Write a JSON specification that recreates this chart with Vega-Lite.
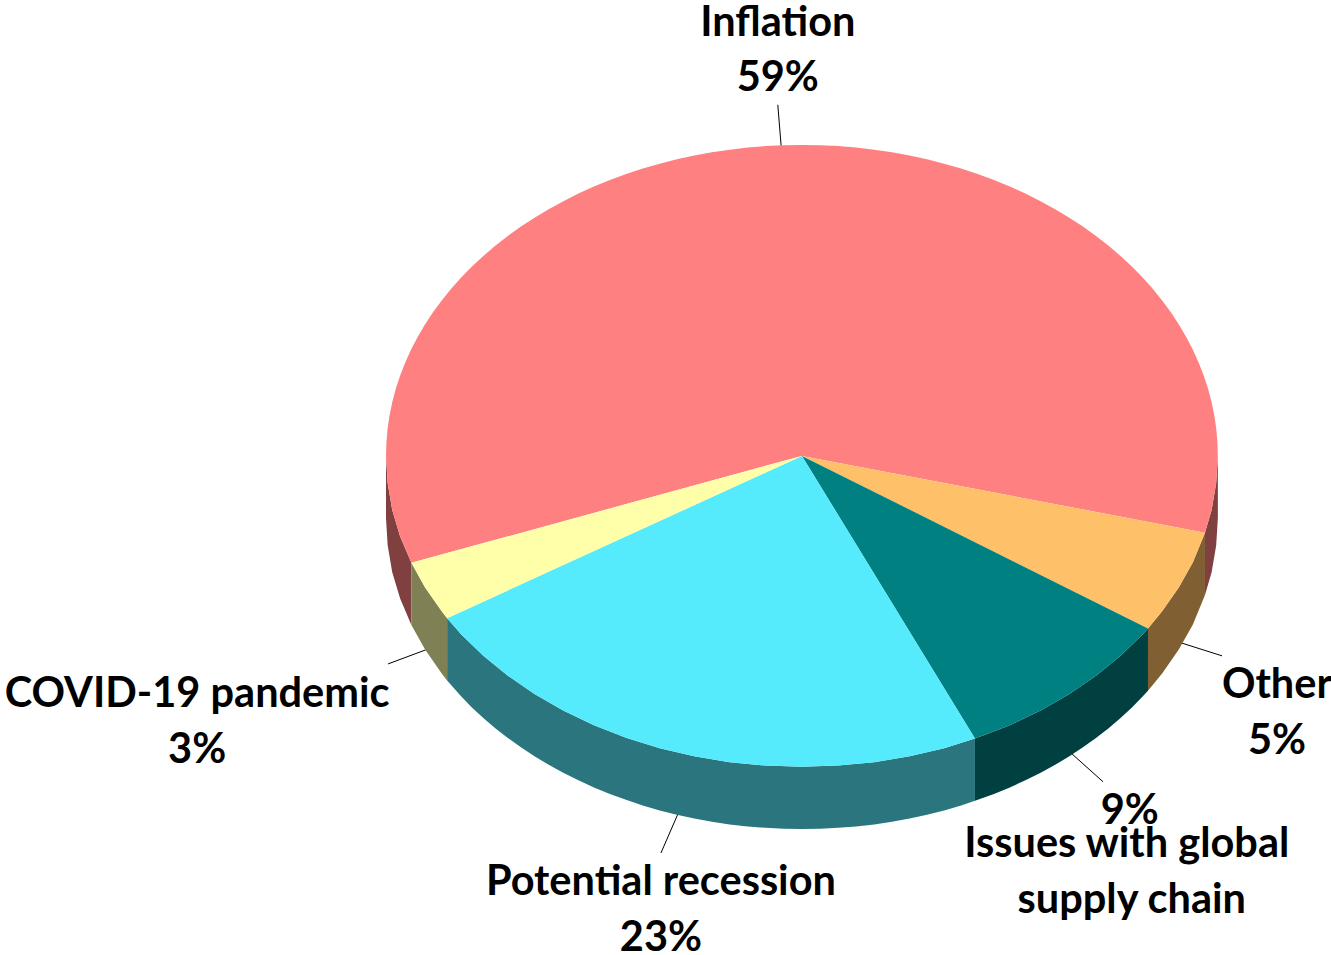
{"$schema":"https://vega.github.io/schema/vega-lite/v6.json","width":1331,"height":955,"padding":0,"autosize":{"type":"none"},"background":"white","view":{"stroke":null},
"datasets":{
"faces":[
{"p":"Inflation side A","o":0,"x":-1,"y":0},{"p":"Inflation side A","o":1,"x":-0.996,"y":-0.087},{"p":"Inflation side A","o":2,"x":-0.985,"y":-0.174},{"p":"Inflation side A","o":3,"x":-0.966,"y":-0.259},{"p":"Inflation side A","o":4,"x":-0.939,"y":-0.344},{"p":"Inflation side A","o":5,"x":-0.939,"y":-0.544},{"p":"Inflation side A","o":6,"x":-0.966,"y":-0.459},{"p":"Inflation side A","o":7,"x":-0.985,"y":-0.374},{"p":"Inflation side A","o":8,"x":-0.996,"y":-0.287},{"p":"Inflation side A","o":9,"x":-1,"y":-0.2},
{"p":"COVID-19 pandemic side","o":0,"x":-0.939,"y":-0.344},{"p":"COVID-19 pandemic side","o":1,"x":-0.906,"y":-0.423},{"p":"COVID-19 pandemic side","o":2,"x":-0.866,"y":-0.5},{"p":"COVID-19 pandemic side","o":3,"x":-0.853,"y":-0.522},{"p":"COVID-19 pandemic side","o":4,"x":-0.853,"y":-0.722},{"p":"COVID-19 pandemic side","o":5,"x":-0.866,"y":-0.7},{"p":"COVID-19 pandemic side","o":6,"x":-0.906,"y":-0.623},{"p":"COVID-19 pandemic side","o":7,"x":-0.939,"y":-0.544},
{"p":"Potential recession side","o":0,"x":-0.853,"y":-0.522},{"p":"Potential recession side","o":1,"x":-0.819,"y":-0.574},{"p":"Potential recession side","o":2,"x":-0.766,"y":-0.643},{"p":"Potential recession side","o":3,"x":-0.707,"y":-0.707},{"p":"Potential recession side","o":4,"x":-0.643,"y":-0.766},{"p":"Potential recession side","o":5,"x":-0.574,"y":-0.819},{"p":"Potential recession side","o":6,"x":-0.5,"y":-0.866},{"p":"Potential recession side","o":7,"x":-0.423,"y":-0.906},{"p":"Potential recession side","o":8,"x":-0.342,"y":-0.94},{"p":"Potential recession side","o":9,"x":-0.259,"y":-0.966},{"p":"Potential recession side","o":10,"x":-0.174,"y":-0.985},{"p":"Potential recession side","o":11,"x":-0.087,"y":-0.996},{"p":"Potential recession side","o":12,"x":0,"y":-1},{"p":"Potential recession side","o":13,"x":0.087,"y":-0.996},{"p":"Potential recession side","o":14,"x":0.174,"y":-0.985},{"p":"Potential recession side","o":15,"x":0.259,"y":-0.966},{"p":"Potential recession side","o":16,"x":0.342,"y":-0.94},{"p":"Potential recession side","o":17,"x":0.416,"y":-0.909},{"p":"Potential recession side","o":18,"x":0.416,"y":-1.109},{"p":"Potential recession side","o":19,"x":0.342,"y":-1.14},{"p":"Potential recession side","o":20,"x":0.259,"y":-1.166},{"p":"Potential recession side","o":21,"x":0.174,"y":-1.185},{"p":"Potential recession side","o":22,"x":0.087,"y":-1.196},{"p":"Potential recession side","o":23,"x":0,"y":-1.2},{"p":"Potential recession side","o":24,"x":-0.087,"y":-1.196},{"p":"Potential recession side","o":25,"x":-0.174,"y":-1.185},{"p":"Potential recession side","o":26,"x":-0.259,"y":-1.166},{"p":"Potential recession side","o":27,"x":-0.342,"y":-1.14},{"p":"Potential recession side","o":28,"x":-0.423,"y":-1.106},{"p":"Potential recession side","o":29,"x":-0.5,"y":-1.066},{"p":"Potential recession side","o":30,"x":-0.574,"y":-1.019},{"p":"Potential recession side","o":31,"x":-0.643,"y":-0.966},{"p":"Potential recession side","o":32,"x":-0.707,"y":-0.907},{"p":"Potential recession side","o":33,"x":-0.766,"y":-0.843},{"p":"Potential recession side","o":34,"x":-0.819,"y":-0.774},{"p":"Potential recession side","o":35,"x":-0.853,"y":-0.722},
{"p":"Potential recession side","o":18.5,"x":0.3827,"y":-1.1239},{"p":"Potential recession side","o":19.5,"x":0.3007,"y":-1.1537},{"p":"Potential recession side","o":20.5,"x":0.2164,"y":-1.1763},{"p":"Potential recession side","o":21.5,"x":0.1305,"y":-1.1914},{"p":"Potential recession side","o":22.5,"x":0.0436,"y":-1.199},{"p":"Potential recession side","o":23.5,"x":-0.0436,"y":-1.199},{"p":"Potential recession side","o":24.5,"x":-0.1305,"y":-1.1914},{"p":"Potential recession side","o":25.5,"x":-0.2164,"y":-1.1763},{"p":"Potential recession side","o":26.5,"x":-0.3007,"y":-1.1537},{"p":"Potential recession side","o":27.5,"x":-0.3827,"y":-1.1239},{"p":"Potential recession side","o":28.5,"x":-0.4617,"y":-1.087},{"p":"Potential recession side","o":29.5,"x":-0.5373,"y":-1.0434},{"p":"Potential recession side","o":30.5,"x":-0.6088,"y":-0.9934},{"p":"Potential recession side","o":31.5,"x":-0.6756,"y":-0.9373},{"p":"Potential recession side","o":32.5,"x":-0.7373,"y":-0.8756},{"p":"Potential recession side","o":33.5,"x":-0.7934,"y":-0.8088},
{"p":"Issues side","o":0,"x":0.416,"y":-0.909},{"p":"Issues side","o":1,"x":0.5,"y":-0.866},{"p":"Issues side","o":2,"x":0.574,"y":-0.819},{"p":"Issues side","o":3,"x":0.643,"y":-0.766},{"p":"Issues side","o":4,"x":0.707,"y":-0.707},{"p":"Issues side","o":5,"x":0.766,"y":-0.643},{"p":"Issues side","o":6,"x":0.819,"y":-0.574},{"p":"Issues side","o":7,"x":0.832,"y":-0.555},{"p":"Issues side","o":8,"x":0.832,"y":-0.755},{"p":"Issues side","o":9,"x":0.819,"y":-0.774},{"p":"Issues side","o":10,"x":0.766,"y":-0.843},{"p":"Issues side","o":11,"x":0.707,"y":-0.907},{"p":"Issues side","o":12,"x":0.643,"y":-0.966},{"p":"Issues side","o":13,"x":0.574,"y":-1.019},{"p":"Issues side","o":14,"x":0.5,"y":-1.066},{"p":"Issues side","o":15,"x":0.416,"y":-1.109},
{"p":"Issues side","o":9.5,"x":0.7934,"y":-0.8088},{"p":"Issues side","o":10.5,"x":0.7373,"y":-0.8756},{"p":"Issues side","o":11.5,"x":0.6756,"y":-0.9373},{"p":"Issues side","o":12.5,"x":0.6088,"y":-0.9934},{"p":"Issues side","o":13.5,"x":0.5373,"y":-1.0434},{"p":"Issues side","o":14.5,"x":0.4617,"y":-1.087},
{"p":"Other side","o":0,"x":0.832,"y":-0.555},{"p":"Other side","o":1,"x":0.866,"y":-0.5},{"p":"Other side","o":2,"x":0.906,"y":-0.423},{"p":"Other side","o":3,"x":0.94,"y":-0.342},{"p":"Other side","o":4,"x":0.969,"y":-0.247},{"p":"Other side","o":5,"x":0.969,"y":-0.447},{"p":"Other side","o":6,"x":0.94,"y":-0.542},{"p":"Other side","o":7,"x":0.906,"y":-0.623},{"p":"Other side","o":8,"x":0.866,"y":-0.7},{"p":"Other side","o":9,"x":0.832,"y":-0.755},
{"p":"Inflation side B","o":0,"x":0.969,"y":-0.247},{"p":"Inflation side B","o":1,"x":0.985,"y":-0.174},{"p":"Inflation side B","o":2,"x":0.996,"y":-0.087},{"p":"Inflation side B","o":3,"x":1,"y":0},{"p":"Inflation side B","o":4,"x":1,"y":-0.2},{"p":"Inflation side B","o":5,"x":0.996,"y":-0.287},{"p":"Inflation side B","o":6,"x":0.985,"y":-0.374},{"p":"Inflation side B","o":7,"x":0.969,"y":-0.447},
{"p":"Inflation","o":0,"x":0,"y":0},{"p":"Inflation","o":1,"x":0.969,"y":-0.247},{"p":"Inflation","o":2,"x":0.985,"y":-0.174},{"p":"Inflation","o":3,"x":0.996,"y":-0.087},{"p":"Inflation","o":4,"x":1,"y":0},{"p":"Inflation","o":5,"x":0.9962,"y":0.0872},{"p":"Inflation","o":6,"x":0.9848,"y":0.1736},{"p":"Inflation","o":7,"x":0.9659,"y":0.2588},{"p":"Inflation","o":8,"x":0.9397,"y":0.342},{"p":"Inflation","o":9,"x":0.9063,"y":0.4226},{"p":"Inflation","o":10,"x":0.866,"y":0.5},{"p":"Inflation","o":11,"x":0.8192,"y":0.5736},{"p":"Inflation","o":12,"x":0.766,"y":0.6428},{"p":"Inflation","o":13,"x":0.7071,"y":0.7071},{"p":"Inflation","o":14,"x":0.6428,"y":0.766},{"p":"Inflation","o":15,"x":0.5736,"y":0.8192},{"p":"Inflation","o":16,"x":0.5,"y":0.866},{"p":"Inflation","o":17,"x":0.4226,"y":0.9063},{"p":"Inflation","o":18,"x":0.342,"y":0.9397},{"p":"Inflation","o":19,"x":0.2588,"y":0.9659},{"p":"Inflation","o":20,"x":0.1736,"y":0.9848},{"p":"Inflation","o":21,"x":0.0872,"y":0.9962},{"p":"Inflation","o":22,"x":0,"y":1},{"p":"Inflation","o":23,"x":-0.0872,"y":0.9962},{"p":"Inflation","o":24,"x":-0.1736,"y":0.9848},{"p":"Inflation","o":25,"x":-0.2588,"y":0.9659},{"p":"Inflation","o":26,"x":-0.342,"y":0.9397},{"p":"Inflation","o":27,"x":-0.4226,"y":0.9063},{"p":"Inflation","o":28,"x":-0.5,"y":0.866},{"p":"Inflation","o":29,"x":-0.5736,"y":0.8192},{"p":"Inflation","o":30,"x":-0.6428,"y":0.766},{"p":"Inflation","o":31,"x":-0.7071,"y":0.7071},{"p":"Inflation","o":32,"x":-0.766,"y":0.6428},{"p":"Inflation","o":33,"x":-0.8192,"y":0.5736},{"p":"Inflation","o":34,"x":-0.866,"y":0.5},{"p":"Inflation","o":35,"x":-0.9063,"y":0.4226},{"p":"Inflation","o":36,"x":-0.9397,"y":0.342},{"p":"Inflation","o":37,"x":-0.9659,"y":0.2588},{"p":"Inflation","o":38,"x":-0.9848,"y":0.1736},{"p":"Inflation","o":39,"x":-0.9962,"y":0.0872},{"p":"Inflation","o":40,"x":-1,"y":0},{"p":"Inflation","o":41,"x":-0.996,"y":-0.087},{"p":"Inflation","o":42,"x":-0.985,"y":-0.174},{"p":"Inflation","o":43,"x":-0.966,"y":-0.259},{"p":"Inflation","o":44,"x":-0.939,"y":-0.344},
{"p":"Inflation","o":4.5,"x":0.999,"y":0.0436},{"p":"Inflation","o":5.5,"x":0.9914,"y":0.1305},{"p":"Inflation","o":6.5,"x":0.9763,"y":0.2164},{"p":"Inflation","o":7.5,"x":0.9537,"y":0.3007},{"p":"Inflation","o":8.5,"x":0.9239,"y":0.3827},{"p":"Inflation","o":9.5,"x":0.887,"y":0.4617},{"p":"Inflation","o":10.5,"x":0.8434,"y":0.5373},{"p":"Inflation","o":11.5,"x":0.7934,"y":0.6088},{"p":"Inflation","o":12.5,"x":0.7373,"y":0.6756},{"p":"Inflation","o":13.5,"x":0.6756,"y":0.7373},{"p":"Inflation","o":14.5,"x":0.6088,"y":0.7934},{"p":"Inflation","o":15.5,"x":0.5373,"y":0.8434},{"p":"Inflation","o":16.5,"x":0.4617,"y":0.887},{"p":"Inflation","o":17.5,"x":0.3827,"y":0.9239},{"p":"Inflation","o":18.5,"x":0.3007,"y":0.9537},{"p":"Inflation","o":19.5,"x":0.2164,"y":0.9763},{"p":"Inflation","o":20.5,"x":0.1305,"y":0.9914},{"p":"Inflation","o":21.5,"x":0.0436,"y":0.999},{"p":"Inflation","o":22.5,"x":-0.0436,"y":0.999},{"p":"Inflation","o":23.5,"x":-0.1305,"y":0.9914},{"p":"Inflation","o":24.5,"x":-0.2164,"y":0.9763},{"p":"Inflation","o":25.5,"x":-0.3007,"y":0.9537},{"p":"Inflation","o":26.5,"x":-0.3827,"y":0.9239},{"p":"Inflation","o":27.5,"x":-0.4617,"y":0.887},{"p":"Inflation","o":28.5,"x":-0.5373,"y":0.8434},{"p":"Inflation","o":29.5,"x":-0.6088,"y":0.7934},{"p":"Inflation","o":30.5,"x":-0.6756,"y":0.7373},{"p":"Inflation","o":31.5,"x":-0.7373,"y":0.6756},{"p":"Inflation","o":32.5,"x":-0.7934,"y":0.6088},{"p":"Inflation","o":33.5,"x":-0.8434,"y":0.5373},{"p":"Inflation","o":34.5,"x":-0.887,"y":0.4617},{"p":"Inflation","o":35.5,"x":-0.9239,"y":0.3827},{"p":"Inflation","o":36.5,"x":-0.9537,"y":0.3007},{"p":"Inflation","o":37.5,"x":-0.9763,"y":0.2164},{"p":"Inflation","o":38.5,"x":-0.9914,"y":0.1305},{"p":"Inflation","o":39.5,"x":-0.999,"y":0.0436},
{"p":"Other","o":0,"x":0,"y":0},{"p":"Other","o":1,"x":0.832,"y":-0.555},{"p":"Other","o":2,"x":0.866,"y":-0.5},{"p":"Other","o":3,"x":0.906,"y":-0.423},{"p":"Other","o":4,"x":0.94,"y":-0.342},{"p":"Other","o":5,"x":0.969,"y":-0.247},
{"p":"Issues","o":0,"x":0,"y":0},{"p":"Issues","o":1,"x":0.416,"y":-0.909},{"p":"Issues","o":2,"x":0.5,"y":-0.866},{"p":"Issues","o":3,"x":0.574,"y":-0.819},{"p":"Issues","o":4,"x":0.643,"y":-0.766},{"p":"Issues","o":5,"x":0.707,"y":-0.707},{"p":"Issues","o":6,"x":0.766,"y":-0.643},{"p":"Issues","o":7,"x":0.819,"y":-0.574},{"p":"Issues","o":8,"x":0.832,"y":-0.555},
{"p":"Potential recession","o":0,"x":0,"y":0},{"p":"Potential recession","o":1,"x":-0.853,"y":-0.522},{"p":"Potential recession","o":2,"x":-0.819,"y":-0.574},{"p":"Potential recession","o":3,"x":-0.766,"y":-0.643},{"p":"Potential recession","o":4,"x":-0.707,"y":-0.707},{"p":"Potential recession","o":5,"x":-0.643,"y":-0.766},{"p":"Potential recession","o":6,"x":-0.574,"y":-0.819},{"p":"Potential recession","o":7,"x":-0.5,"y":-0.866},{"p":"Potential recession","o":8,"x":-0.423,"y":-0.906},{"p":"Potential recession","o":9,"x":-0.342,"y":-0.94},{"p":"Potential recession","o":10,"x":-0.259,"y":-0.966},{"p":"Potential recession","o":11,"x":-0.174,"y":-0.985},{"p":"Potential recession","o":12,"x":-0.087,"y":-0.996},{"p":"Potential recession","o":13,"x":0,"y":-1},{"p":"Potential recession","o":14,"x":0.087,"y":-0.996},{"p":"Potential recession","o":15,"x":0.174,"y":-0.985},{"p":"Potential recession","o":16,"x":0.259,"y":-0.966},{"p":"Potential recession","o":17,"x":0.342,"y":-0.94},{"p":"Potential recession","o":18,"x":0.416,"y":-0.909},
{"p":"COVID-19 pandemic","o":0,"x":0,"y":0},{"p":"COVID-19 pandemic","o":1,"x":-0.939,"y":-0.344},{"p":"COVID-19 pandemic","o":2,"x":-0.906,"y":-0.423},{"p":"COVID-19 pandemic","o":3,"x":-0.866,"y":-0.5},{"p":"COVID-19 pandemic","o":4,"x":-0.853,"y":-0.522}
],
"leaders":[
{"slice":"Inflation","x":-0.058,"y":1.129,"x2":-0.05,"y2":0.997},
{"slice":"Other","x":0.911,"y":-0.601,"x2":1.01,"y2":-0.643},
{"slice":"Issues with global supply chain","x":0.649,"y":-0.958,"x2":0.724,"y2":-1.048},
{"slice":"Potential recession","x":-0.298,"y":-1.151,"x2":-0.339,"y2":-1.277},
{"slice":"COVID-19 pandemic","x":-0.995,"y":-0.669,"x2":-0.899,"y2":-0.621}
],
"labels":[
{"t":"Inflation","x":-0.058,"y":1.392},{"t":"59%","x":-0.058,"y":1.215},
{"t":"Other","x":1.142,"y":-0.736},{"t":"5%","x":1.142,"y":-0.916},
{"t":"9%","x":0.788,"y":-1.141},{"t":"Issues with global","x":0.781,"y":-1.248},{"t":"supply chain","x":0.793,"y":-1.428},
{"t":"Potential recession","x":-0.339,"y":-1.37},{"t":"23%","x":-0.339,"y":-1.55},
{"t":"COVID-19 pandemic","x":-1.454,"y":-0.765},{"t":"3%","x":-1.454,"y":-0.945}
]},
"layer":[
{"data":{"name":"leaders"},"mark":{"type":"rule","color":"#000000","strokeWidth":1},"encoding":{"x":{"field":"x","type":"quantitative","scale":{"domain":[-1.928,1.272],"nice":false,"zero":false},"axis":null},"y":{"field":"y","type":"quantitative","scale":{"domain":[-1.605,1.466],"nice":false,"zero":false},"axis":null},"x2":{"field":"x2"},"y2":{"field":"y2"}}},
{"data":{"name":"faces"},"mark":{"type":"line","interpolate":"linear-closed","strokeWidth":0},"encoding":{"x":{"field":"x","type":"quantitative","scale":{"domain":[-1.928,1.272],"nice":false,"zero":false},"axis":null},"y":{"field":"y","type":"quantitative","scale":{"domain":[-1.605,1.466],"nice":false,"zero":false},"axis":null},"order":{"field":"o","type":"quantitative"},"detail":{"field":"p"},"fill":{"field":"p","type":"nominal","legend":null,"scale":{"domain":["Inflation side A","Inflation side B","COVID-19 pandemic side","Potential recession side","Issues side","Other side","Inflation","Other","Issues","Potential recession","COVID-19 pandemic"],"range":["#804040","#804040","#808055","#2A757E","#004040","#806033","#FF8080","#FFC06A","#008080","#55EBFC","#FFFFAA"]}}}},
{"data":{"name":"labels"},"mark":{"type":"text","font":"Lato","fontWeight":"bold","fontSize":41.5,"dy":1,"color":"#000000","align":"center","baseline":"middle"},"encoding":{"x":{"field":"x","type":"quantitative","scale":{"domain":[-1.928,1.272],"nice":false,"zero":false},"axis":null},"y":{"field":"y","type":"quantitative","scale":{"domain":[-1.605,1.466],"nice":false,"zero":false},"axis":null},"text":{"field":"t"}}}
]}
